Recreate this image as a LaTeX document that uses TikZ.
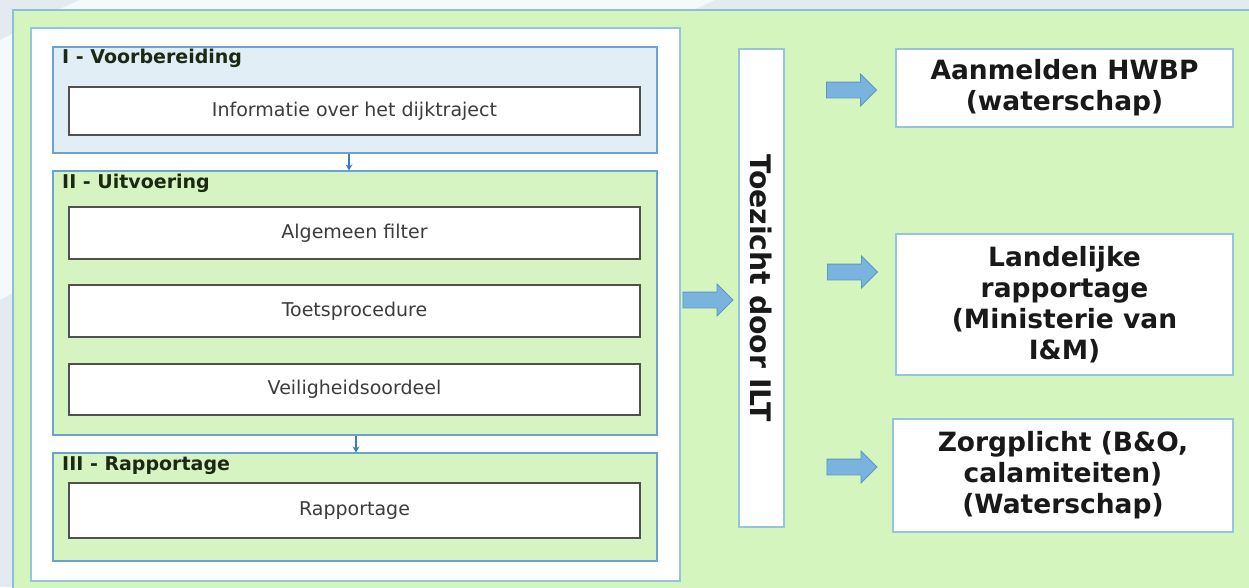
\documentclass[tikz,border=0pt]{standalone}
\usepackage{fontspec}
\setmainfont{DejaVu Sans}
\usetikzlibrary{shapes.arrows,arrows.meta}

\definecolor{bggrey}{RGB}{227,234,240}
\definecolor{swoosh}{RGB}{246,249,251}
\definecolor{leaf}{RGB}{212,245,190}
\definecolor{leafsec}{RGB}{214,244,194}
\definecolor{skysec}{RGB}{226,238,246}
\definecolor{frameblue}{RGB}{140,192,216}
\definecolor{secblue}{RGB}{108,162,207}
\definecolor{boxblue}{RGB}{150,196,222}
\definecolor{arrowfill}{RGB}{122,180,222}
\definecolor{arrowline}{RGB}{92,150,196}
\definecolor{linkblue}{RGB}{58,125,196}
\definecolor{titleink}{RGB}{27,40,18}
\definecolor{boxink}{RGB}{60,60,60}
\definecolor{rimgrey}{RGB}{80,80,80}

\tikzset{
  px/.style={x=1pt,y=-1pt},
  panelbox/.style={draw=boxblue,line width=1.4pt,fill=white,inner sep=0pt},
  section/.style={draw=secblue,line width=1.2pt,inner sep=0pt,minimum width=604pt},
  sectitle/.style={anchor=west,inner sep=0pt,text=titleink,
    font=\fontsize{19}{21}\selectfont\bfseries},
  stepbox/.style={draw=rimgrey,line width=1.3pt,fill=white,inner sep=0pt,
    minimum width=571pt,text=boxink,font=\fontsize{19}{22}\selectfont},
  outcome/.style={draw=boxblue,line width=1.8pt,fill=white,inner sep=0pt,
    align=center,text=black!90,font=\fontsize{26.5}{31}\selectfont\bfseries},
  blockarrow/.style={shape=single arrow,draw=arrowline,fill=arrowfill,
    line width=0.8pt,inner sep=7.5pt,single arrow head extend=8pt,
    minimum height=50pt,outer sep=0pt},
  link/.style={draw=linkblue,line width=1.2pt,-{Stealth[length=6pt,width=7pt]}}
}

\begin{document}
\begin{tikzpicture}[px]
\useasboundingbox (0,0) rectangle (1249,587);

% backdrop with the pale swoosh of the slide template
\fill[bggrey] (0,0) rectangle (1249,587);
\fill[swoosh] (80,0) -- (715,0) .. controls (480,110) and (180,200) .. (0,300)
  -- (0,40) .. controls (30,25) and (55,10) .. (80,0) -- cycle;

% green slide area
\node[draw=frameblue,line width=1.6pt,fill=leaf,inner sep=0pt,
  minimum width=1250pt,minimum height=590pt] (frame) at (638,305) {};

% left panel holding the three phases
\node[panelbox,minimum width=649pt,minimum height=553pt] (panel) at (355.5,304.5) {};

\node[section,fill=skysec,minimum height=106pt] (secI) at (355,100) {};
\node[section,fill=leafsec,minimum height=264pt] (secII) at (355,303) {};
\node[section,fill=leafsec,minimum height=108pt] (secIII) at (355,507) {};

\node[sectitle] (tI) at (62,58) {I - Voorbereiding};
\node[sectitle] (tII) at (62,183) {II - Uitvoering};
\node[sectitle] (tIII) at (62,466) {III - Rapportage};

\node[stepbox,minimum height=48pt] (info) at (354.5,111) {Informatie over het dijktraject};
\node[stepbox,minimum height=52pt] (filter) at (354.5,233) {Algemeen filter};
\node[stepbox,minimum height=52pt] (toets) at (354.5,311) {Toetsprocedure};
\node[stepbox,minimum height=51pt] (veilig) at (354.5,389.5) {Veiligheidsoordeel};
\node[stepbox,minimum height=55pt] (rapp) at (354.5,510.5) {Rapportage};

\draw[link] ([xshift=-6pt]secI.south) -- ([xshift=-6pt]secII.north);
\draw[link] ([xshift=1pt]secII.south) -- ([xshift=1pt]secIII.north);

% supervision column
\node[draw=boxblue,line width=1.4pt,fill=white,inner sep=0pt,
  minimum width=45pt,minimum height=478pt] (ilt) at (761.5,288) {};
\node[rotate=-90,inner sep=0pt,text=black!90,
  font=\fontsize{28.3}{30}\selectfont\bfseries] (iltlabel) at (ilt.center) {Toezicht door ILT};

% outcomes
\node[outcome,minimum width=337pt,minimum height=78pt] (hwbp) at (1064.5,88)
  {Aanmelden HWBP\\(waterschap)};
\node[outcome,minimum width=337pt,minimum height=141pt] (landelijk) at (1064.5,304.5)
  {Landelijke\\rapportage\\(Ministerie van\\I\&M)};
\node[outcome,minimum width=340pt,minimum height=113pt] (zorg) at (1063,475.5)
  {Zorgplicht (B\&O,\\calamiteiten)\\(Waterschap)};

% block arrows
\node[blockarrow] (toilt) at (704,300) {};
\node[blockarrow] (tohwbp) at (847.5,90) {};
\node[blockarrow] (tolandelijk) at (848.5,272) {};
\node[blockarrow] (tozorg) at (848,467) {};
\end{tikzpicture}
\end{document}
